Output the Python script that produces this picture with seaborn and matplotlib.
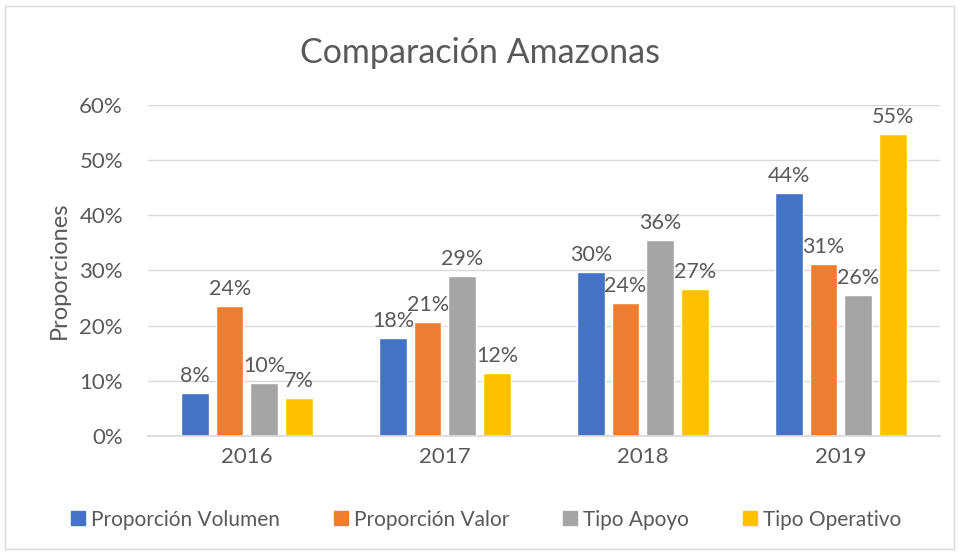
import numpy as np
import pandas as pd
import matplotlib.pyplot as plt
import seaborn as sns
from matplotlib.patches import Rectangle

years = ["2016", "2017", "2018", "2019"]
series = ["Proporción Volumen", "Proporción Valor", "Tipo Apoyo", "Tipo Operativo"]
volumen = [0.078, 0.178, 0.297, 0.441]
valor = [0.235, 0.207, 0.241, 0.311]
apoyo = [0.096, 0.290, 0.355, 0.255]
operativo = [0.069, 0.115, 0.266, 0.547]
colors = ["#4472C4", "#ED7D31", "#A5A5A5", "#FFC000"]
text_color = "#595959"

df = pd.DataFrame({
    "year": years * 4,
    "serie": np.repeat(series, 4),
    "value": volumen + valor + apoyo + operativo,
})

sns.set_theme(style="white")
plt.rcParams["font.family"] = ["Lato", "DejaVu Sans"]

fig = plt.figure(figsize=(9.59, 5.54), dpi=100)
ax = fig.add_axes([0.1543, 0.213, 0.8257, 0.5975])

sns.barplot(data=df, x="year", y="value", hue="serie", order=years,
            hue_order=series, palette=colors, width=0.7, gap=0.2,
            saturation=1, ax=ax, legend=True)

for cont in ax.containers:
    ax.bar_label(cont, labels=[f"{v * 100:.0f}%" for v in cont.datavalues],
                 padding=5, fontsize=15.5, color=text_color)

ax.set_ylim(0, 0.6)
ax.set_xlim(-0.5, 3.5)
ax.set_yticks(np.arange(0, 0.61, 0.1))
ax.set_yticklabels([f"{int(round(t * 100))}%" for t in np.arange(0, 0.61, 0.1)])
ax.yaxis.grid(True, color="#D9D9D9", linewidth=1)
ax.set_axisbelow(True)
for s in ["top", "right", "left"]:
    ax.spines[s].set_visible(False)
ax.spines["bottom"].set_color("#D9D9D9")
ax.tick_params(axis="both", length=0, labelsize=16, colors=text_color, pad=8)
ax.tick_params(axis="y", pad=18)
ax.set_xlabel("")
ax.set_ylabel("Proporciones", fontsize=17, color=text_color)
ax.yaxis.set_label_coords(-0.098, 0.5)

ax.legend_.remove()
handles = [Rectangle((0, 0), 1, 1, color=c) for c in colors]
fig.legend(handles, series, loc="center", bbox_to_anchor=(0.507, 0.062), ncol=4,
           frameon=False, fontsize=15, labelcolor=text_color,
           handlelength=0.65, handleheight=0.65, handletextpad=0.3, columnspacing=2.6)

fig.text(0.5, 0.905, "Comparación Amazonas", ha="center", va="center",
         fontsize=24.5, color=text_color)

fig.patches.append(Rectangle((5 / 959, 5 / 554), 949 / 959, 543 / 554,
                             transform=fig.transFigure, fill=False,
                             edgecolor="#D9D9D9", linewidth=1))

fig.savefig("out.png", dpi=100)
